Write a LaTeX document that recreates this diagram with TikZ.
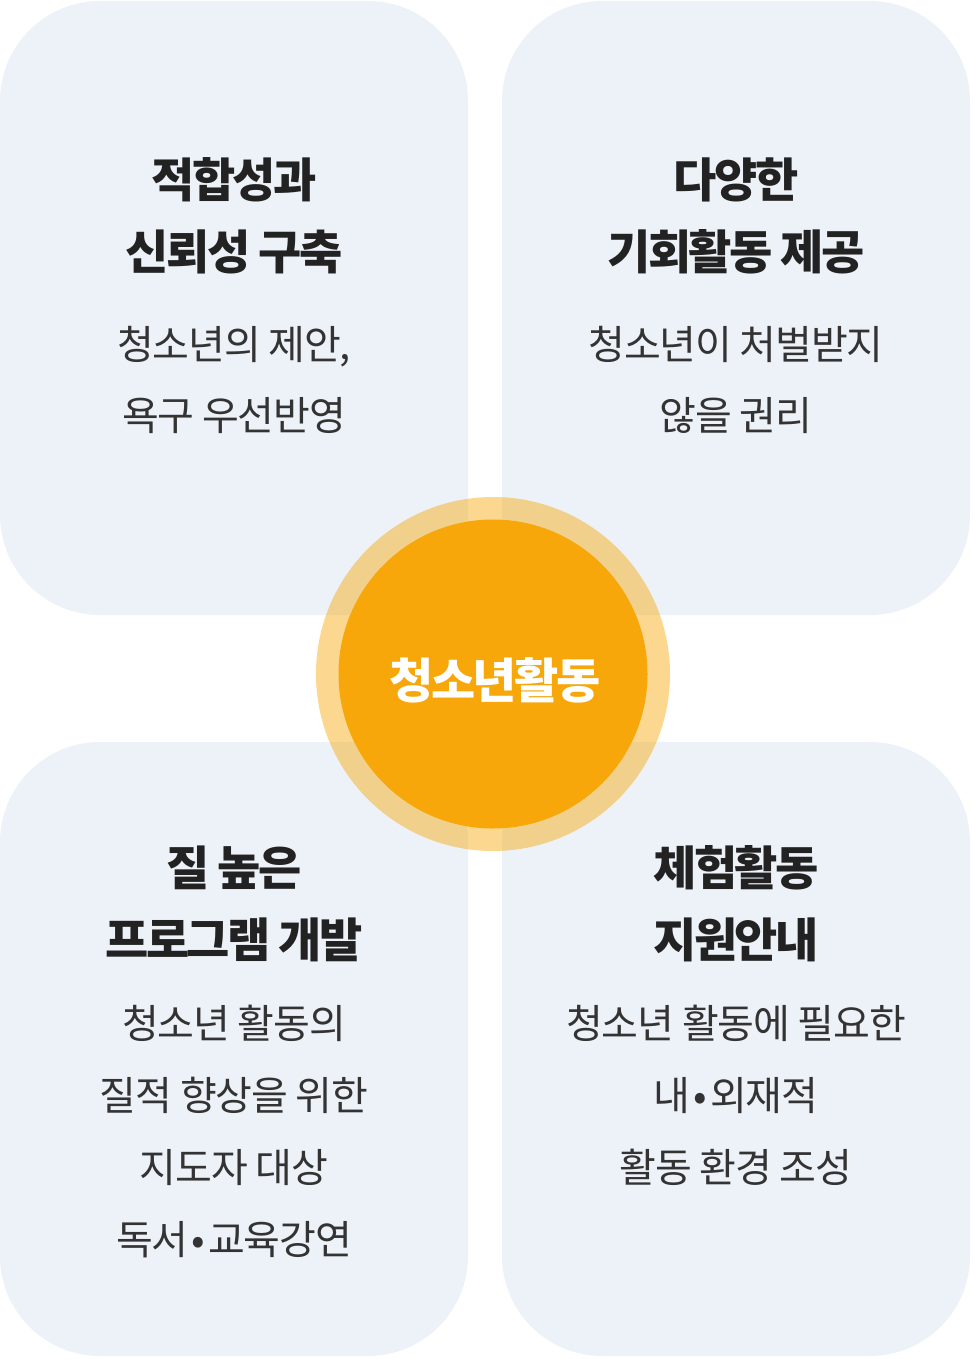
\documentclass[tikz,border=0pt]{standalone}
\usepackage{fontspec}
\setmainfont{Noto Sans CJK KR}
\newfontfamily\titlefont{Noto Sans CJK KR}[LetterSpace=-5.5]
\newfontfamily\bodyfont{Noto Sans CJK KR}[LetterSpace=-3]
\definecolor{boxfill}{HTML}{EDF2F9}
\definecolor{orangeC}{HTML}{F7A709}
\definecolor{titleC}{HTML}{222222}
\definecolor{bodyC}{HTML}{333333}
\tikzset{
  panel/.style={fill=boxfill, draw=none, rounded corners=100pt},
  ttl/.style={anchor=base, inner sep=0pt, text=titleC, font=\titlefont\bfseries\fontsize{47}{56}\selectfont},
  bdy/.style={anchor=base, inner sep=0pt, text=bodyC, font=\bodyfont\fontsize{40}{48}\selectfont},
}
\newcommand{\midbullet}{\hspace{3pt}•\hspace{3pt}}
\begin{document}
\begin{tikzpicture}[x=1pt,y=-1pt]
\useasboundingbox (0,0) rectangle (972,1359);
% panels
\fill[panel] (0,1) rectangle (468,615);
\fill[panel] (502,1) rectangle (970,615);
\fill[panel] (0,742) rectangle (468,1356);
\fill[panel] (502,742) rectangle (970,1356);
% top-left
\node[ttl] (tl1) at (234,197.3) {적합성과};
\node[ttl] (tl2) at (234,269.3) {신뢰성 구축};
\node[bdy] (tl3) at (234,359.6) {청소년의 제안,};
\node[bdy] (tl4) at (234,430.6) {욕구 우선반영};
% top-right
\node[ttl] (tr1) at (736,197.3) {다양한};
\node[ttl] (tr2) at (736,269.3) {기회활동 제공};
\node[bdy] (tr3) at (736,359.6) {청소년이 처벌받지};
\node[bdy] (tr4) at (736,430.6) {않을 권리};
% bottom-left
\node[ttl] (bl1) at (234,885.3) {질 높은};
\node[ttl] (bl2) at (234,957.3) {프로그램 개발};
\node[bdy] (bl3) at (234,1038.6) {청소년 활동의};
\node[bdy] (bl4) at (234,1110.6) {질적 향상을 위한};
\node[bdy] (bl5) at (234,1182.6) {지도자 대상};
\node[bdy] (bl6) at (234,1254.6) {독서\midbullet 교육강연};
% bottom-right
\node[ttl] (br1) at (736,885.3) {체험활동};
\node[ttl] (br2) at (736,957.3) {지원안내};
\node[bdy] (br3) at (736,1038.6) {청소년 활동에 필요한};
\node[bdy] (br4) at (736,1110.6) {내\midbullet 외재적};
\node[bdy] (br5) at (736,1182.6) {활동 환경 조성};
% centre
\fill[orangeC, opacity=0.45] (493,674) circle (177);
\fill[orangeC] (493,674) circle (154.5);
\node[anchor=base, inner sep=0pt, text=white, font=\titlefont\bfseries\fontsize{48}{56}\selectfont] (c) at (495,698.7) {청소년활동};
\end{tikzpicture}
\end{document}
